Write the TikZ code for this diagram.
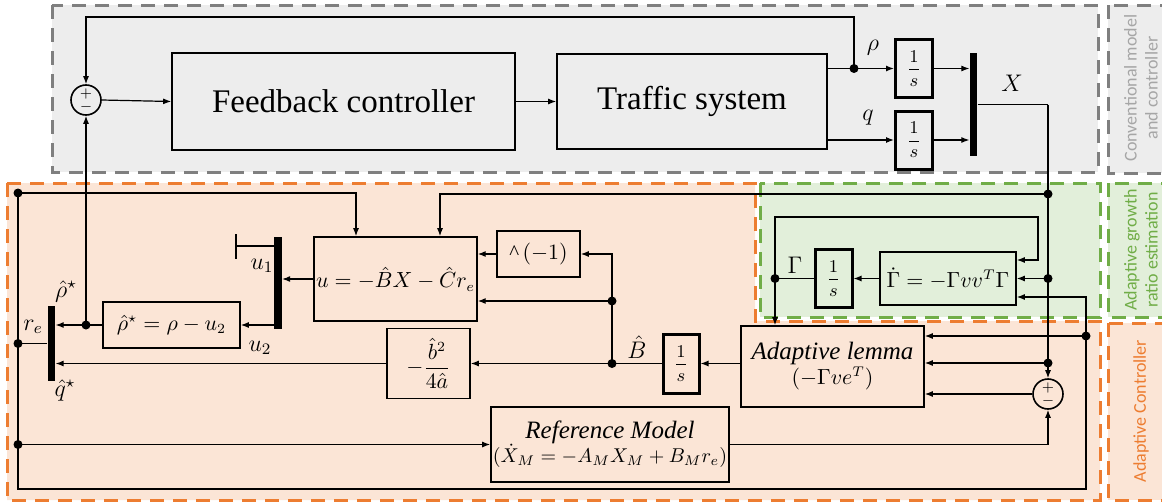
\documentclass[tikz,border=0pt]{standalone}
\usepackage{amsmath}
\usepackage{fontspec}
\setmainfont{Liberation Serif}
\newfontfamily\sidefont{Carlito}
\definecolor{ConvFill}{HTML}{EDEDED}
\definecolor{ConvLine}{HTML}{7F7F7F}
\definecolor{ConvText}{HTML}{A6A6A6}
\definecolor{AdaptFill}{HTML}{FBE5D6}
\definecolor{AdaptLine}{HTML}{ED7D31}
\definecolor{GrowthFill}{HTML}{E2EFDA}
\definecolor{GrowthLine}{HTML}{70AD47}
\usetikzlibrary{calc, arrows.meta}
\tikzset{
    block/.style={draw, line width=0.8pt, inner sep=1pt, align=center},
    bigblock/.style={block, font=\fontsize{16.5}{18}\selectfont},
    integ/.style={draw, line width=1.5pt, minimum width=18.5pt, minimum height=29pt, inner sep=0pt, font=\fontsize{9.5}{11}\selectfont},
    muxbar/.style={fill=black, draw=none, minimum width=3.75pt, inner sep=0pt},
    sumnode/.style={draw, circle, line width=0.8pt, minimum size=15pt, inner sep=0pt},
    sign/.style={font=\fontsize{7}{7}\selectfont, inner sep=0pt},
    junction/.style={fill=black, circle, inner sep=0pt, minimum size=4.5pt},
    signal/.style={line width=0.6pt, -{Latex[length=4pt, width=3pt]}},
    wire/.style={line width=0.6pt},
    region/.style={dash pattern=on 7pt off 4.5pt, line width=1.5pt},
    sidelabel/.style={rotate=90, align=center, font=\sidefont\fontsize{9}{10.5}\selectfont},
    sig label/.style={font=\fontsize{11.5}{13}\selectfont}
}
\newcommand{\blocktitle}[1]{{\fontsize{12.5}{14}\selectfont\textit{#1}}}

\begin{document}
\begin{tikzpicture}[x=0.5pt, y=-0.5pt, font=\fontsize{10.5}{12.5}\selectfont]
\useasboundingbox (0,0) rectangle (1162,503);

% regions
\draw[region, draw=ConvLine, fill=ConvFill] (52,5) rectangle (1098,172);
\draw[region, draw=ConvLine, fill=ConvFill] (1108,5) rectangle (1180,173);
\draw[region, draw=AdaptLine, fill=AdaptFill]
    (7,183) -- (755,183) -- (755,321) -- (1100,321) -- (1100,500) -- (7,500) -- cycle;
\draw[region, draw=GrowthLine, fill=GrowthFill] (760,183) rectangle (1100,317);
\draw[region, draw=GrowthLine, fill=GrowthFill] (1108,183) rectangle (1180,317);
\draw[region, draw=AdaptLine, fill=AdaptFill] (1108,323) rectangle (1180,500);

\node[sidelabel, text=ConvText] (lblConv) at (1141,88) {Conventional model\\and controller};
\node[sidelabel, text=GrowthLine] (lblGrowth) at (1141,250) {Adaptive growth\\ratio estimation};
\node[sidelabel, text=AdaptLine] (lblAdapt) at (1141,411) {Adaptive Controller};

% conventional loop
\node[sumnode] (sumA) at (86,100) {};
\node[sign] at ([yshift=3pt]sumA.center) {$+$};
\node[sign] at ([yshift=-3.5pt]sumA.center) {$-$};
\node[bigblock, minimum width=171.5pt, minimum height=48.5pt] (ctrl) at (343.5,101.5) {Feedback controller};
\node[bigblock, minimum width=135pt, minimum height=47.5pt] (plant) at (692,101.5) {Traffic system};
\node[integ] (intRho) at (914,68.5) {$\dfrac{1}{s}$};
\node[integ] (intQ) at (914,140) {$\dfrac{1}{s}$};
\node[muxbar, minimum height=51.5pt] (muxX) at (973.5,104.5) {};
\node[junction] (jRho) at (854,68.5) {};
\coordinate (fbTop) at (854,17);
\coordinate (xCorner) at (1048,104.5);

\node[sig label] (lblRho) at (873,48) {$\rho$};
\node[sig label] (lblQ) at (868,118) {$q$};
\node[sig label] (lblX) at (1012,83) {$X$};

\draw[signal] (sumA.east) -- (ctrl.west);
\draw[signal] (ctrl.east) -- (plant.east -| ctrl.east) -- (plant.west);
\draw[signal] (plant.east |- jRho) -- (intRho.west);
\draw[signal] (jRho.center) -- (fbTop) -| (sumA.north);
\draw[signal] (plant.east |- intQ) -- (intQ.west);
\draw[signal] (intRho.east) -- (intRho.east -| muxX.west);
\draw[signal] (intQ.east) -- (intQ.east -| muxX.west);

% adaptive controller
\node[block, minimum width=78.5pt, minimum height=42pt] (uBox) at (395.5,279) {$u=-\hat{B}X-\hat{C}r_e$};
\node[block, minimum width=41.5pt, minimum height=23pt] (inv) at (538.5,254) {\textasciicircum\,$(-1)$};
\node[block, minimum width=41.5pt, minimum height=35pt] (bQ) at (428.5,363.5) {$-\dfrac{\hat{b}^2}{4\hat{a}}$};
\node[integ, minimum width=18pt, minimum height=29.5pt] (intB) at (681,363.5) {$\dfrac{1}{s}$};
\node[block, minimum width=91.5pt, minimum height=40.5pt] (lemma) at (832.5,366.5) {\blocktitle{Adaptive lemma}\\$(-\Gamma v e^{T})$};
\node[sumnode] (sumB) at (1048,394) {};
\node[sign] at ([yshift=3pt]sumB.center) {$+$};
\node[sign] at ([yshift=-3.5pt]sumB.center) {$-$};
\node[block, inner sep=0.5pt, minimum width=119pt, minimum height=37.5pt, font=\fontsize{9.8}{12}\selectfont] (refM) at (610,444.5) {\blocktitle{Reference Model}\\$(\dot{X}_M=-A_MX_M+B_Mr_e)$};
\node[block, inner sep=0.5pt, minimum width=68.5pt, minimum height=23pt] (rhoBox) at (171.5,325) {$\hat{\rho}^{\star}=\rho-u_2$};
\node[muxbar, minimum height=46pt] (muxU) at (278,283) {};
\node[muxbar, minimum height=37.5pt] (muxRe) at (51.5,343.5) {};
\coordinate (uTerm) at (235,246);

\node[junction] (jX1) at (1048,194) {};
\node[junction] (jX2) at (1048,278.5) {};
\node[junction] (jX3) at (1048,363) {};
\node[junction] (jB) at (1086,336) {};
\node[junction] (jB2) at (612,363.5) {};
\node[junction] (jU) at (612,301) {};
\node[junction] (jP) at (86,325) {};
\node[junction] (jL1) at (18,193) {};
\node[junction] (jRe) at (18,343.5) {};
\node[junction] (jL3) at (18,444.5) {};
\coordinate (botL) at (18,489);
\coordinate (botR) at (1086,489);

\node[sig label] (lblB) at (637,347) {$\hat{B}$};
\node[sig label] (lblU1) at (262,266) {$u_1$};
\node[sig label] (lblU2) at (260,348) {$u_2$};
\node[sig label] (lblRhoS) at (66,291) {$\hat{\rho}^{\star}$};
\node[sig label] (lblRe) at (33,327) {$r_e$};
\node[sig label] (lblQS) at (65,390) {$\hat{q}^{\star}$};

\draw[wire] (muxX.east) -- (xCorner);
\draw[signal] (xCorner) -- (sumB.north);
\draw[signal] (jX1.center) -| ([xshift=22.25pt]uBox.north);
\draw[signal] (jX3.center) -- (jX3 -| lemma.east);
\draw[signal] (sumB.west) -- (sumB.west -| lemma.east);
\draw[signal] (jB.center) -- (jB -| lemma.east);
\draw[wire] (jL1.center) -- (botL) -- (botR) -- (jB.center);
\draw[signal] (jL1.center) -| ([xshift=-19.75pt]uBox.north);
\draw[signal] (jL3.center) -- (refM.west);
\draw[signal] (refM.east) -| (sumB.south);
\draw[wire] (muxRe.west |- jRe) -- (jRe.center);

\draw[signal] (lemma.west |- intB) -- (intB.east);
\draw[signal] (intB.west) -- (bQ.east);
\draw[wire] (jB2.center) -- (jU.center);
\draw[signal] (jU.center) -- (jU -| uBox.east);
\draw[signal] (jU.center) |- (inv.east);
\draw[signal] (inv.west) -- (inv.west -| uBox.east);
\draw[signal] (uBox.west) -- (uBox.west -| muxU.east);
\draw[wire, -{Bar[width=12.5pt, line width=1.2pt]}] (muxU.west |- uTerm) -- (uTerm);
\draw[signal] (muxU.west |- rhoBox.east) -- (rhoBox.east);
\draw[signal] (rhoBox.west) -- (rhoBox.west -| muxRe.east);
\draw[signal] (jP.center) -- (sumA.south);
\draw[signal] (bQ.west) -- (bQ.west -| muxRe.east);

% adaptive growth ratio estimation
\node[block, minimum width=68pt, minimum height=26.5pt] (gDot) at (948,278.5) {$\dot{\Gamma}=-\Gamma vv^{T}\Gamma$};
\node[integ] (intG) at (833.5,278.5) {$\dfrac{1}{s}$};
\node[junction] (jG) at (775,278.5) {};
\coordinate (gLoopL) at (775,217);
\coordinate (gLoopR) at (1038,217);
\node[sig label] (lblG) at (795,265) {$\Gamma$};

\draw[signal] (jX2.center) -- (gDot.east);
\draw[signal] (jB.center) |- ([yshift=-9.25pt]gDot.east);
\draw[signal] (gDot.west) -- (intG.east);
\draw[wire] (intG.west) -- (jG.center);
\draw[signal] (jG.center) -- (gLoopL) -- (gLoopR) |- ([yshift=9.25pt]gDot.east);
\draw[signal] (jG.center) -- (jG |- lemma.north);

\end{tikzpicture}
\end{document}
